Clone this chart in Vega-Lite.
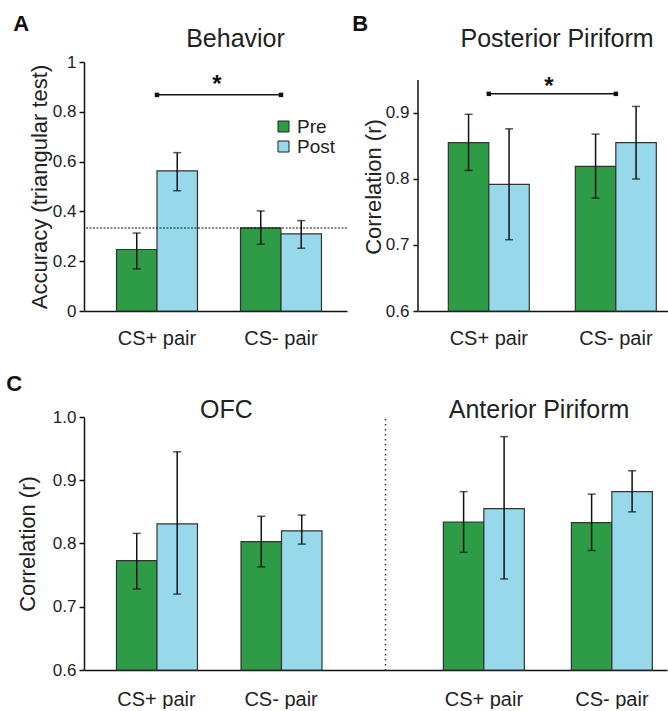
{
  "$schema": "https://vega.github.io/schema/vega-lite/v6.json",
  "background": "white",
  "padding": {"left": 6, "top": 13, "right": 0, "bottom": 0},
  "datasets": {
    "behavior": [
      {"pair": "CS+ pair", "session": "Pre", "value": 0.247, "lo": 0.169, "hi": 0.313},
      {"pair": "CS+ pair", "session": "Post", "value": 0.563, "lo": 0.483, "hi": 0.636},
      {"pair": "CS- pair", "session": "Pre", "value": 0.334, "lo": 0.268, "hi": 0.402},
      {"pair": "CS- pair", "session": "Post", "value": 0.31, "lo": 0.252, "hi": 0.363}
    ],
    "posterior": [
      {"pair": "CS+ pair", "session": "Pre", "value": 0.855, "lo": 0.813, "hi": 0.898},
      {"pair": "CS+ pair", "session": "Post", "value": 0.792, "lo": 0.708, "hi": 0.876},
      {"pair": "CS- pair", "session": "Pre", "value": 0.819, "lo": 0.771, "hi": 0.868},
      {"pair": "CS- pair", "session": "Post", "value": 0.855, "lo": 0.8, "hi": 0.91}
    ],
    "ofc": [
      {"pair": "CS+ pair", "session": "Pre", "value": 0.773, "lo": 0.728, "hi": 0.816},
      {"pair": "CS+ pair", "session": "Post", "value": 0.831, "lo": 0.72, "hi": 0.945},
      {"pair": "CS- pair", "session": "Pre", "value": 0.803, "lo": 0.763, "hi": 0.843},
      {"pair": "CS- pair", "session": "Post", "value": 0.82, "lo": 0.799, "hi": 0.845}
    ],
    "anterior": [
      {"pair": "CS+ pair", "session": "Pre", "value": 0.834, "lo": 0.786, "hi": 0.882},
      {"pair": "CS+ pair", "session": "Post", "value": 0.855, "lo": 0.744, "hi": 0.969},
      {"pair": "CS- pair", "session": "Pre", "value": 0.833, "lo": 0.789, "hi": 0.878},
      {"pair": "CS- pair", "session": "Post", "value": 0.882, "lo": 0.85, "hi": 0.915}
    ],
    "sigA": [{"from": "CS+ pair", "to": "CS- pair", "y": 0.868, "ystar": 0.906, "label": "*"}],
    "sigAEnds": [{"pair": "CS+ pair", "y": 0.868}, {"pair": "CS- pair", "y": 0.868}],
    "sigB": [{"from": "CS+ pair", "to": "CS- pair", "y": 0.929, "ystar": 0.94, "label": "*"}],
    "sigBEnds": [{"pair": "CS+ pair", "y": 0.929}, {"pair": "CS- pair", "y": 0.929}],
    "bAxis": [{"pos": 0, "from": 0.6, "to": 0.95}],
    "chance": [{"chance": 0.3333}]
  },
  "config": {
    "font": "Liberation Sans",
    "view": {"stroke": null},
    "axis": {
      "labelFont": "Liberation Sans", "titleFont": "Liberation Sans",
      "labelColor": "#222", "titleColor": "#222",
      "domainColor": "#111", "tickColor": "#111",
      "grid": false, "labelFontSize": 17, "titleFontSize": 22, "titleFontWeight": "normal"
    },
    "title": {"font": "Liberation Sans", "fontSize": 25, "fontWeight": "normal", "color": "#222"}
  },
  "resolve": {"scale": {"color": "independent"}},
  "spacing": 25,
  "vconcat": [
    {
      "resolve": {"scale": {"color": "independent"}},
      "spacing": 4,
      "hconcat": [
        {
          "title": {"text": "A", "anchor": "start", "fontSize": 22, "fontWeight": "bold", "color": "#111", "dx": -15, "offset": -9},
          "resolve": {"scale": {"color": "independent"}},
          "vconcat": [
            {
              "width": 263, "height": 249,
              "title": {"text": "Behavior", "anchor": "middle", "frame": "group", "dx": 20, "offset": 1},
              "layer": [
                {
                  "data": {"name": "behavior"},
                  "mark": {"type": "bar", "stroke": "#333", "strokeWidth": 1.2},
                  "encoding": {
                    "x": {"field": "pair", "type": "nominal",
                      "scale": {"domain": ["CS+ pair", "CS- pair"], "paddingInner": 0.347, "paddingOuter": 0.234, "align": 0.56},
                      "axis": {"title": null, "ticks": false, "labelFontSize": 20, "labelPadding": 17, "domainWidth": 1.5, "labelAngle": 0}},
                    "xOffset": {"field": "session", "type": "nominal", "scale": {"domain": ["Pre", "Post"], "paddingInner": 0, "paddingOuter": 0}},
                    "y": {"field": "value", "type": "quantitative",
                      "scale": {"domain": [0, 1], "nice": false, "zero": false},
                      "axis": {"title": "Accuracy (triangular test)", "values": [0, 0.2, 0.4, 0.6, 0.8, 1], "format": "~g", "tickSize": 5, "tickWidth": 1.5, "domainWidth": 1.5, "labelPadding": 3, "titlePadding": 1}},
                    "y2": {"datum": 0},
                    "color": {"field": "session", "type": "nominal",
                      "scale": {"domain": ["Pre", "Post"], "range": ["#2e9b47", "#97d8ea"]},
                      "legend": {"title": null, "orient": "none", "legendX": 190, "legendY": 55, "labelFontSize": 19, "labelFont": "Liberation Sans", "labelColor": "#222", "symbolType": "square", "symbolSize": 121, "symbolStrokeColor": "#222", "symbolStrokeWidth": 1, "rowPadding": -2, "labelOffset": 4, "padding": 0}}
                  }
                },
                {
                  "data": {"name": "behavior"},
                  "mark": {"type": "rule", "color": "#111", "strokeWidth": 1.5},
                  "encoding": {
                    "x": {"field": "pair", "type": "nominal"},
                    "xOffset": {"field": "session", "type": "nominal"},
                    "y": {"field": "lo", "type": "quantitative"},
                    "y2": {"field": "hi"}
                  }
                },
                {
                  "data": {"name": "behavior"},
                  "mark": {"type": "tick", "color": "#111", "size": 8, "thickness": 1.5},
                  "encoding": {
                    "x": {"field": "pair", "type": "nominal"},
                    "xOffset": {"field": "session", "type": "nominal"},
                    "y": {"field": "lo", "type": "quantitative"}
                  }
                },
                {
                  "data": {"name": "behavior"},
                  "mark": {"type": "tick", "color": "#111", "size": 8, "thickness": 1.5},
                  "encoding": {
                    "x": {"field": "pair", "type": "nominal"},
                    "xOffset": {"field": "session", "type": "nominal"},
                    "y": {"field": "hi", "type": "quantitative"}
                  }
                },
                {
                  "data": {"name": "chance"},
                  "mark": {"type": "rule", "color": "#111", "strokeWidth": 1, "strokeDash": [2, 1.5]},
                  "encoding": {"y": {"field": "chance", "type": "quantitative"}}
                },
                {
                  "data": {"name": "sigA"},
                  "mark": {"type": "rule", "color": "#111", "strokeWidth": 1.5},
                  "encoding": {
                    "x": {"field": "from", "type": "nominal"},
                    "x2": {"field": "to"},
                    "y": {"field": "y", "type": "quantitative"}
                  }
                },
                {
                  "data": {"name": "sigAEnds"},
                  "mark": {"type": "square", "size": 20, "color": "#111", "opacity": 1},
                  "encoding": {
                    "x": {"field": "pair", "type": "nominal"},
                    "y": {"field": "y", "type": "quantitative"}
                  }
                },
                {
                  "data": {"name": "sigA"},
                  "mark": {"type": "text", "fontSize": 24, "fontWeight": "bold", "color": "#111", "baseline": "middle"},
                  "encoding": {
                    "x": {"field": "from", "type": "nominal", "bandPosition": 1.24},
                    "y": {"field": "ystar", "type": "quantitative"},
                    "text": {"field": "label"}
                  }
                }
              ]
            }
          ]
        },
        {
          "title": {"text": "B", "anchor": "start", "fontSize": 22, "fontWeight": "bold", "color": "#111", "dx": -10, "offset": -9},
          "resolve": {"scale": {"color": "independent"}},
          "vconcat": [
            {
              "width": 252, "height": 249,
              "title": {"text": "Posterior Piriform", "anchor": "middle", "frame": "group", "dx": 13, "offset": 10},
              "resolve": {"scale": {"x": "independent"}},
              "layer": [
                {
                  "layer": [
                    {
                      "data": {"name": "posterior"},
                      "mark": {"type": "bar", "stroke": "#333", "strokeWidth": 1.2},
                      "encoding": {
                        "x": {"field": "pair", "type": "nominal",
                          "scale": {"domain": ["CS+ pair", "CS- pair"], "paddingInner": 0.362, "paddingOuter": 0.173, "align": 0.69},
                          "axis": {"title": null, "ticks": false, "labelFontSize": 20, "labelPadding": 17, "domainWidth": 1.5, "labelAngle": 0}},
                        "xOffset": {"field": "session", "type": "nominal", "scale": {"domain": ["Pre", "Post"], "paddingInner": 0, "paddingOuter": 0}},
                        "y": {"field": "value", "type": "quantitative",
                          "scale": {"domain": [0.6, 0.97727], "nice": false, "zero": false},
                          "axis": {"title": "Correlation (r)", "values": [0.6, 0.7, 0.8, 0.9], "format": ".1f", "domain": false, "tickSize": 5, "tickWidth": 1.5, "labelPadding": 4, "titlePadding": 0}},
                        "y2": {"datum": 0.6},
                        "color": {"field": "session", "type": "nominal",
                          "scale": {"domain": ["Pre", "Post"], "range": ["#2e9b47", "#97d8ea"]}, "legend": null}
                      }
                    },
                    {
                      "data": {"name": "posterior"},
                      "mark": {"type": "rule", "color": "#111", "strokeWidth": 1.5},
                      "encoding": {
                        "x": {"field": "pair", "type": "nominal"},
                        "xOffset": {"field": "session", "type": "nominal"},
                        "y": {"field": "lo", "type": "quantitative"},
                        "y2": {"field": "hi"}
                      }
                    },
                    {
                      "data": {"name": "posterior"},
                      "mark": {"type": "tick", "color": "#111", "size": 8, "thickness": 1.5},
                      "encoding": {
                        "x": {"field": "pair", "type": "nominal"},
                        "xOffset": {"field": "session", "type": "nominal"},
                        "y": {"field": "lo", "type": "quantitative"}
                      }
                    },
                    {
                      "data": {"name": "posterior"},
                      "mark": {"type": "tick", "color": "#111", "size": 8, "thickness": 1.5},
                      "encoding": {
                        "x": {"field": "pair", "type": "nominal"},
                        "xOffset": {"field": "session", "type": "nominal"},
                        "y": {"field": "hi", "type": "quantitative"}
                      }
                    },
                    {
                      "data": {"name": "sigB"},
                      "mark": {"type": "rule", "color": "#111", "strokeWidth": 1.5},
                      "encoding": {
                        "x": {"field": "from", "type": "nominal"},
                        "x2": {"field": "to"},
                        "y": {"field": "y", "type": "quantitative"}
                      }
                    },
                    {
                      "data": {"name": "sigBEnds"},
                      "mark": {"type": "square", "size": 20, "color": "#111", "opacity": 1},
                      "encoding": {
                        "x": {"field": "pair", "type": "nominal"},
                        "y": {"field": "y", "type": "quantitative"}
                      }
                    },
                    {
                      "data": {"name": "sigB"},
                      "mark": {"type": "text", "fontSize": 24, "fontWeight": "bold", "color": "#111", "baseline": "middle"},
                      "encoding": {
                        "x": {"field": "from", "type": "nominal", "bandPosition": 1.24},
                        "y": {"field": "ystar", "type": "quantitative"},
                        "text": {"field": "label"}
                      }
                    }
                  ]
                },
                {
                  "data": {"name": "bAxis"},
                  "mark": {"type": "rule", "color": "#111", "strokeWidth": 1.5},
                  "encoding": {
                    "x": {"field": "pos", "type": "quantitative", "scale": {"domain": [0, 1]}, "axis": null},
                    "y": {"field": "from", "type": "quantitative"},
                    "y2": {"field": "to"}
                  }
                }
              ]
            }
          ]
        }
      ]
    },
    {
      "title": {"text": "C", "anchor": "start", "fontSize": 22, "fontWeight": "bold", "color": "#111", "dx": -10, "offset": 2},
      "resolve": {"scale": {"color": "independent"}},
      "spacing": 0,
      "hconcat": [
        {
          "width": 301, "height": 253,
          "title": {"text": "OFC", "anchor": "middle", "frame": "group", "dx": -8, "offset": -15},
          "layer": [
            {
              "data": {"name": "ofc"},
              "mark": {"type": "bar", "stroke": "#333", "strokeWidth": 1.2},
              "encoding": {
                "x": {"field": "pair", "type": "nominal",
                  "scale": {"domain": ["CS+ pair", "CS- pair"], "paddingInner": 0.357, "paddingOuter": 0.387, "align": 0.337},
                  "axis": {"title": null, "ticks": false, "labelFontSize": 20, "labelPadding": 19, "domainWidth": 1.5, "labelAngle": 0}},
                "xOffset": {"field": "session", "type": "nominal", "scale": {"domain": ["Pre", "Post"], "paddingInner": 0, "paddingOuter": 0}},
                "y": {"field": "value", "type": "quantitative",
                  "scale": {"domain": [0.6, 1.0], "nice": false, "zero": false},
                  "axis": {"title": "Correlation (r)", "values": [0.6, 0.7, 0.8, 0.9, 1.0], "format": ".1f", "tickSize": 5, "tickWidth": 1.5, "domainWidth": 1.5, "labelPadding": 3, "titlePadding": 13}},
                "y2": {"datum": 0.6},
                "color": {"field": "session", "type": "nominal",
                  "scale": {"domain": ["Pre", "Post"], "range": ["#2e9b47", "#97d8ea"]}, "legend": null}
              }
            },
            {
              "data": {"name": "ofc"},
              "mark": {"type": "rule", "color": "#111", "strokeWidth": 1.5},
              "encoding": {
                "x": {"field": "pair", "type": "nominal"},
                "xOffset": {"field": "session", "type": "nominal"},
                "y": {"field": "lo", "type": "quantitative"},
                "y2": {"field": "hi"}
              }
            },
            {
              "data": {"name": "ofc"},
              "mark": {"type": "tick", "color": "#111", "size": 8, "thickness": 1.5},
              "encoding": {
                "x": {"field": "pair", "type": "nominal"},
                "xOffset": {"field": "session", "type": "nominal"},
                "y": {"field": "lo", "type": "quantitative"}
              }
            },
            {
              "data": {"name": "ofc"},
              "mark": {"type": "tick", "color": "#111", "size": 8, "thickness": 1.5},
              "encoding": {
                "x": {"field": "pair", "type": "nominal"},
                "xOffset": {"field": "session", "type": "nominal"},
                "y": {"field": "hi", "type": "quantitative"}
              }
            }
          ]
        },
        {
          "width": 282, "height": 253,
          "title": {"text": "Anterior Piriform", "anchor": "middle", "frame": "group", "dx": 13, "offset": -6},
          "layer": [
            {
              "data": {"name": "anterior"},
              "mark": {"type": "bar", "stroke": "#333", "strokeWidth": 1.2},
              "encoding": {
                "x": {"field": "pair", "type": "nominal",
                  "scale": {"domain": ["CS+ pair", "CS- pair"], "paddingInner": 0.367, "paddingOuter": 0.285, "align": 0.8},
                  "axis": {"title": null, "ticks": false, "labelFontSize": 20, "labelPadding": 19, "domainWidth": 1.5, "labelAngle": 0}},
                "xOffset": {"field": "session", "type": "nominal", "scale": {"domain": ["Pre", "Post"], "paddingInner": 0, "paddingOuter": 0}},
                "y": {"field": "value", "type": "quantitative",
                  "scale": {"domain": [0.6, 1.0], "nice": false, "zero": false},
                  "axis": {"title": null, "labels": false, "ticks": false, "domainDash": [1.5, 3.5], "domainWidth": 1.5, "domainColor": "#333"}},
                "y2": {"datum": 0.6},
                "color": {"field": "session", "type": "nominal",
                  "scale": {"domain": ["Pre", "Post"], "range": ["#2e9b47", "#97d8ea"]}, "legend": null}
              }
            },
            {
              "data": {"name": "anterior"},
              "mark": {"type": "rule", "color": "#111", "strokeWidth": 1.5},
              "encoding": {
                "x": {"field": "pair", "type": "nominal"},
                "xOffset": {"field": "session", "type": "nominal"},
                "y": {"field": "lo", "type": "quantitative"},
                "y2": {"field": "hi"}
              }
            },
            {
              "data": {"name": "anterior"},
              "mark": {"type": "tick", "color": "#111", "size": 8, "thickness": 1.5},
              "encoding": {
                "x": {"field": "pair", "type": "nominal"},
                "xOffset": {"field": "session", "type": "nominal"},
                "y": {"field": "lo", "type": "quantitative"}
              }
            },
            {
              "data": {"name": "anterior"},
              "mark": {"type": "tick", "color": "#111", "size": 8, "thickness": 1.5},
              "encoding": {
                "x": {"field": "pair", "type": "nominal"},
                "xOffset": {"field": "session", "type": "nominal"},
                "y": {"field": "hi", "type": "quantitative"}
              }
            }
          ]
        }
      ]
    }
  ]
}
